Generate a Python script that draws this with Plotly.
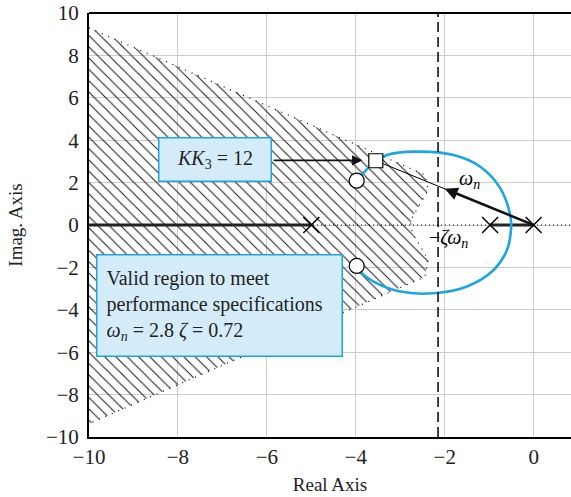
import plotly.graph_objects as go

# ---------------- data ----------------
real_ticks = [-10, -8, -6, -4, -2, 0]
imag_ticks = [-10, -8, -6, -4, -2, 0, 2, 4, 6, 8, 10]
x_range = [-10, 0.84]
y_range = [-10, 10]

# valid (hatched) region boundary
region_x = [-10, -2.45, -2.37, -2.55, -2.72, -2.77, -2.72, -2.55, -2.37, -2.45, -10]
region_y = [9.3, 2.37, 1.65, 1.0, 0.4, 0.0, -0.4, -1.0, -1.65, -2.45, -9.37]

# root-locus loop (blue)
locus_x = [-3.98, -3.55, -3.3, -2.7, -1.8, -1.2, -0.75, -0.52, -0.51, -0.6, -0.9, -1.5, -2.25, -3.0, -3.6, -3.9, -3.98]
locus_y = [2.09, 3.03, 3.3, 3.46, 3.3, 2.75, 1.73, 0.39, -0.24, -1.18, -2.12, -2.9, -3.22, -3.14, -2.67, -2.2, -1.93]

# real-axis locus segments
seg_x = [-10, -5, None, -0.98, 0]
seg_y = [0, 0, None, 0, 0]

# open-loop poles
poles_x = [-5, -0.98, 0]
poles_y = [0, 0, 0]

# closed-loop roots
circ_x = [-3.98, -3.98]
circ_y = [2.09, -1.93]
sq_x = [-3.55]
sq_y = [3.03]

# omega_n arrow tip, -zeta*omega_n line
wn_tip = (-2.0, 1.71)
zeta_wn_x = -2.15
kk_arrow_start = (-5.88, 3.05)

font = "Liberation Serif, Times New Roman, serif"
blue = "#1BA5E1"
boxfill = "#D4ECF9"

fig = go.Figure()

# hatched region
fig.add_trace(go.Scatter(
    x=region_x, y=region_y, mode="lines", fill="toself",
    fillcolor="rgba(0,0,0,0)", line=dict(width=0),
    fillpattern=dict(shape="\\", size=8, solidity=0.12, fgcolor="#111",
                     bgcolor="rgba(0,0,0,0)", fgopacity=1),
    hoverinfo="skip", showlegend=False))
# dotted boundary
fig.add_trace(go.Scatter(
    x=region_x, y=region_y, mode="lines",
    line=dict(color="black", width=1.2, dash="1px,6px"),
    hoverinfo="skip", showlegend=False))

# dotted real axis
fig.add_trace(go.Scatter(
    x=x_range, y=[0, 0], mode="lines",
    line=dict(color="black", width=1.2, dash="1px,3px"),
    hoverinfo="skip", showlegend=False))

# thick real-axis segments
fig.add_trace(go.Scatter(
    x=seg_x, y=seg_y, mode="lines",
    line=dict(color="#222", width=2.8),
    hoverinfo="skip", showlegend=False))

# thin line origin -> square
fig.add_trace(go.Scatter(
    x=[poles_x[-1], sq_x[0]], y=[poles_y[-1], sq_y[0]], mode="lines",
    line=dict(color="black", width=1),
    hoverinfo="skip", showlegend=False))

# blue locus loop
fig.add_trace(go.Scatter(
    x=locus_x, y=locus_y, mode="lines",
    line=dict(color=blue, width=2.6, shape="spline", smoothing=1),
    hoverinfo="skip", showlegend=False))

# poles
fig.add_trace(go.Scatter(
    x=poles_x, y=poles_y, mode="markers",
    marker=dict(symbol="x-thin", size=16, line=dict(color="black", width=1.5)),
    hoverinfo="skip", showlegend=False))

# circles
fig.add_trace(go.Scatter(
    x=circ_x, y=circ_y, mode="markers",
    marker=dict(symbol="circle", size=15, color="white", line=dict(color="black", width=1.2)),
    hoverinfo="skip", showlegend=False))
# square
fig.add_trace(go.Scatter(
    x=sq_x, y=sq_y, mode="markers",
    marker=dict(symbol="square", size=14, color="white", line=dict(color="black", width=1.2)),
    hoverinfo="skip", showlegend=False))

# dashed vertical line
fig.add_shape(type="line", xref="x", yref="paper", x0=zeta_wn_x, x1=zeta_wn_x, y0=0, y1=1,
              line=dict(color="black", width=1.5, dash="10px,5px"))
# top frame
fig.add_shape(type="line", xref="paper", yref="paper", x0=0, x1=1, y0=1, y1=1,
              line=dict(color="black", width=2))

# omega_n arrow
fig.add_annotation(x=wn_tip[0], y=wn_tip[1], ax=poles_x[-1], ay=poles_y[-1],
                   xref="x", yref="y", axref="x", ayref="y", text="",
                   showarrow=True, arrowhead=2, arrowsize=1.0, arrowwidth=2.6,
                   arrowcolor="#111")
# KK3 arrow
fig.add_annotation(x=sq_x[0] - 0.3, y=kk_arrow_start[1], ax=kk_arrow_start[0], ay=kk_arrow_start[1],
                   xref="x", yref="y", axref="x", ayref="y", text="",
                   showarrow=True, arrowhead=2, arrowsize=1.3, arrowwidth=1.6,
                   arrowcolor="#111")

# labels
fig.add_annotation(x=-1.45, y=2.15, text="<i>ω<sub>n</sub></i>", showarrow=False,
                   font=dict(family=font, size=20, color="black"))
fig.add_annotation(x=-1.92, y=-0.65, text="−<i>ζω<sub>n</sub></i>", showarrow=False,
                   font=dict(family=font, size=20, color="black"))

# boxes
fig.add_annotation(x=-7.17, y=3.09, text="<i>KK</i><sub>3</sub> = 12", showarrow=False,
                   font=dict(family=font, size=20, color="#222"),
                   bgcolor=boxfill, bordercolor=blue, borderwidth=1.5, borderpad=4,
                   width=103, height=34)
fig.add_annotation(x=-9.84, y=-1.37, xanchor="left", yanchor="top",
                   text="Valid region to meet<br>performance specifications<br><i>ω<sub>n</sub></i> = 2.8 <i>ζ</i> = 0.72",
                   showarrow=False, align="left",
                   font=dict(family=font, size=20, color="#222"),
                   bgcolor=boxfill, bordercolor=blue, borderwidth=1.5, borderpad=9,
                   width=226, height=82)

fig.update_layout(
    width=571, height=497,
    margin=dict(l=89, r=0, t=13, b=60),
    plot_bgcolor="white", paper_bgcolor="white",
    font=dict(family=font, size=20, color="#222"),
    showlegend=False,
    xaxis=dict(range=x_range, tickvals=real_ticks, showgrid=True, gridcolor="#CCCCCC",
               gridwidth=1, zeroline=False, showline=True, linecolor="black", linewidth=2,
               ticks="", automargin=False, tickfont=dict(size=21), ticklabeloverflow="allow",
               title=dict(text="Real Axis", font=dict(size=19), standoff=9)),
    yaxis=dict(range=y_range, tickvals=imag_ticks, showgrid=True, gridcolor="#CCCCCC",
               gridwidth=1, zeroline=False, showline=True, linecolor="black", linewidth=2,
               ticks="", automargin=False, tickfont=dict(size=21), ticklabelstandoff=4,
               ticklabeloverflow="allow",
               title=dict(text="Imag. Axis", font=dict(size=19), standoff=18)),
)

# remove the default 8px page margin so the figure fills the window exactly
fig.write_html("out.html", config={"displayModeBar": False},
               post_script="document.body.style.margin='0px';")
